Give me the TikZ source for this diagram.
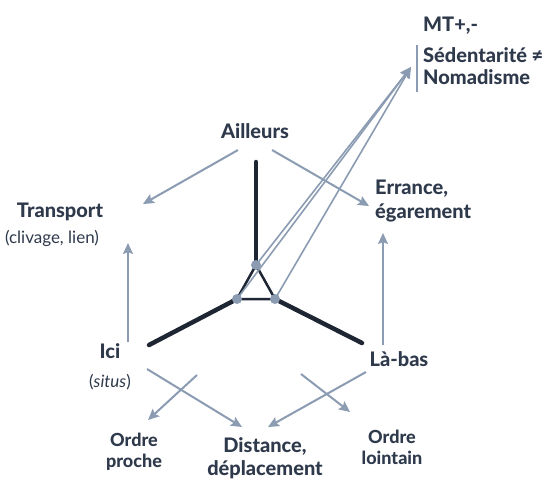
\documentclass[tikz,border=0pt]{standalone}
\usepackage{fontspec}
\setmainfont{Lato}[BoldFont={Lato Heavy}]
\usetikzlibrary{arrows.meta,positioning,calc}
\definecolor{ink}{HTML}{2E394B}
\definecolor{haze}{HTML}{8A9BB2}
\definecolor{frame}{HTML}{1F2633}

\begin{document}
\begin{tikzpicture}[
    x=1pt, y=-1pt,
    >={Stealth[length=11pt,width=10pt,inset=2pt]},
    place/.style={
      text=ink, align=center, inner sep=0pt,
      font=\bfseries\fontsize{20}{23.5}\selectfont
    },
    minor/.style={font=\bfseries\fontsize{18}{21}\selectfont},
    note/.style={font=\fontsize{17}{21}\selectfont},
    flow/.style={->, line width=2pt, haze},
    leg/.style={line width=4.5pt, frame, line cap=round},
    tri/.style={line width=2.5pt, frame, line join=round},
    vertex/.style={circle, fill=haze, inner sep=0pt, minimum size=10pt}
  ]
  \useasboundingbox (0,0) rectangle (545,480);

  % labels
  \node[place] (ailleurs) at (255,131) {Ailleurs};
  \node[place] (transport) at (60,212) {Transport};
  \node[place, note] (clivage) at (52,238) {(clivage, lien)};
  \node[place, anchor=west, align=left] (errance) at (375,201)
    {Errance,\\égarement};
  \node[place] (ici) at (110,351) {Ici};
  \node[place, note] (situs) at (110,382) {(\textit{situs})};
  \node[place] (labas) at (399,359) {Là-bas};
  \node[place, minor] (proche) at (134,452) {Ordre\\proche};
  \node[place] (distance) at (265,458) {Distance,\\déplacement};
  \node[place, minor] (lointain) at (392,447) {Ordre\\lointain};
  \node[place, anchor=west] (mt) at (423,26) {MT+,-};
  \node[place, anchor=west, align=left, font=\bfseries\fontsize{20}{21.5}\selectfont]
    (nomad) at (423,66) {Sédentarité ≠\\Nomadisme};
  \coordinate (bartop) at (417,45);
  \coordinate (barbot) at (417,92);
  \draw[haze, line width=1.2pt] (bartop) -- (barbot);

  % star
  \coordinate (top) at (256,265);
  \coordinate (left) at (237,299);
  \coordinate (right) at (275,299);
  \coordinate (stem) at (256,162);
  \coordinate (legl) at (149,345);
  \coordinate (legr) at (362,343);
  \draw[leg] (stem) -- (top);
  \draw[leg] (left) -- (legl);
  \draw[leg] (right) -- (legr);
  \draw[tri] (top) -- (left) -- (right) -- cycle;

  % links to MT
  \coordinate (mttip) at (411,67);
  \foreach \v in {top,left,right}
    \draw[flow, line width=1.6pt] (\v) -- (mttip);
  \foreach \v in {top,left,right}
    \node[vertex] (dot-\v) at (\v) {};

  % arrows
  \coordinate (a1) at (238,150);  \coordinate (b1) at (143,204);
  \coordinate (a2) at (272,150);  \coordinate (b2) at (369,206);
  \coordinate (a3) at (128,342);  \coordinate (b3) at (128,243);
  \coordinate (a4) at (383,345);  \coordinate (b4) at (383,233);
  \coordinate (a5) at (197,375);  \coordinate (b5) at (148,420);
  \coordinate (a6) at (147,369);  \coordinate (b6) at (242,427);
  \coordinate (a7) at (366,372);  \coordinate (b7) at (268,427);
  \coordinate (a8) at (301,374);  \coordinate (b8) at (350,412);
  \foreach \i in {1,...,8}
    \draw[flow] (a\i) -- (b\i);
\end{tikzpicture}
\end{document}
